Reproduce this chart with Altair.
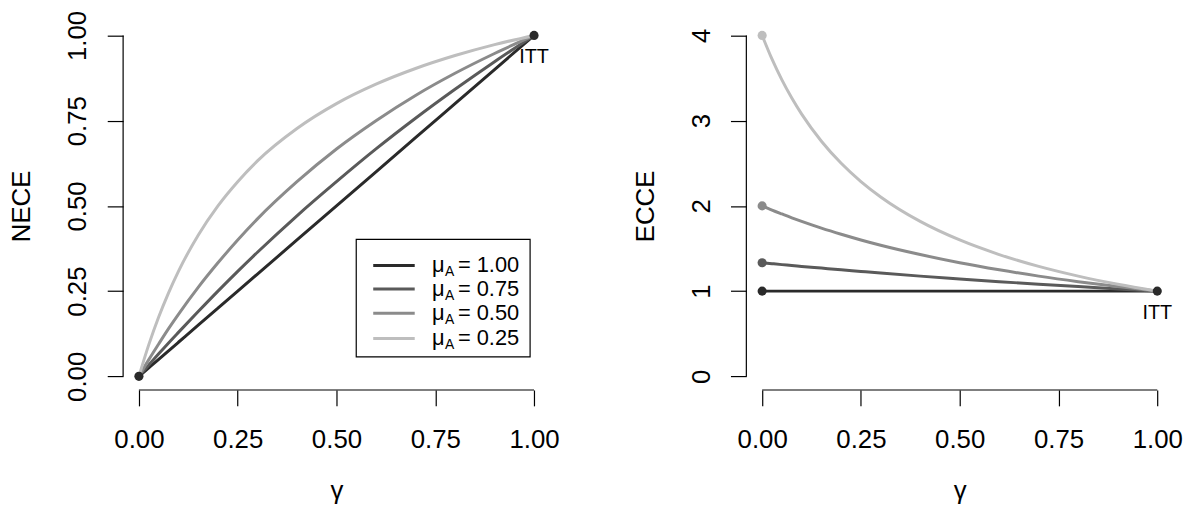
import altair as alt
import pandas as pd

# ---------------- data ----------------
MU_LABELS = ["1.00", "0.75", "0.50", "0.25"]
COLORS = ["#2a2a2a", "#5a5a5a", "#8b8b8b", "#bebebe"]

GAMMA = [0, 0.025, 0.05, 0.075, 0.1, 0.15, 0.2, 0.25, 0.3, 0.4, 0.5, 0.6, 0.7, 0.8, 0.9, 1.0]

NECE_100 = [0, 0.025, 0.05, 0.075, 0.1, 0.15, 0.2, 0.25, 0.3, 0.4, 0.5, 0.6, 0.7, 0.8, 0.9, 1.0]
NECE_075 = [0, 0.033, 0.066, 0.098, 0.129, 0.190, 0.25, 0.308, 0.364, 0.471, 0.571, 0.667, 0.757, 0.842, 0.923, 1.0]
NECE_050 = [0, 0.049, 0.095, 0.140, 0.182, 0.261, 0.333, 0.4, 0.462, 0.571, 0.667, 0.75, 0.824, 0.889, 0.947, 1.0]
NECE_025 = [0, 0.093, 0.174, 0.245, 0.308, 0.414, 0.5, 0.571, 0.632, 0.727, 0.8, 0.857, 0.903, 0.941, 0.973, 1.0]

ECCE_100 = [1, 1, 1, 1, 1, 1, 1, 1, 1, 1, 1, 1, 1, 1, 1, 1]
ECCE_075 = [1.333, 1.322, 1.311, 1.301, 1.290, 1.270, 1.25, 1.231, 1.212, 1.176, 1.143, 1.111, 1.081, 1.053, 1.026, 1.0]
ECCE_050 = [2.0, 1.951, 1.905, 1.860, 1.818, 1.739, 1.667, 1.6, 1.538, 1.429, 1.333, 1.25, 1.176, 1.111, 1.053, 1.0]
ECCE_025 = [4.0, 3.721, 3.478, 3.265, 3.077, 2.759, 2.5, 2.286, 2.105, 1.818, 1.6, 1.429, 1.290, 1.176, 1.081, 1.0]

NECE = [NECE_100, NECE_075, NECE_050, NECE_025]
ECCE = [ECCE_100, ECCE_075, ECCE_050, ECCE_025]

X_TICKS = [0, 0.25, 0.5, 0.75, 1.0]
NECE_TICKS = [0, 0.25, 0.5, 0.75, 1.0]
ECCE_TICKS = [0, 1, 2, 3, 4]

ITT_GAMMA = [1.0]
ITT_NECE = [1.0]
ITT_ECCE = [1.0]

# ---------------- layout constants ----------------
W, H = 430, 371
FONT = "Liberation Sans"
LW = 3
PT = 85
LEG_FS = 22
# legend placement (left panel data coordinates)
LEG_BOX = (0.55, 0.99, 0.057, 0.402)
LEG_LINE_X = (0.593, 0.698)
LEG_TEXT_X = 0.742
LEG_ROW_Y = [0.325, 0.256, 0.185, 0.111]

xs = alt.Scale(domain=[-0.04, 1.04], nice=False, zero=False)
ys_left = alt.Scale(domain=[-0.04, 1.04], nice=False, zero=False)
ys_right = alt.Scale(domain=[-0.16, 4.16], nice=False, zero=False)
cscale = alt.Scale(domain=MU_LABELS, range=COLORS)

one = pd.DataFrame({"k": [0]})

X_AXIS = alt.Axis(values=X_TICKS, format=".2f", labelPadding=21, titlePadding=25,
                  domain=False, grid=False, tickSize=16)


def y_axis(ticks, fmt):
    return alt.Axis(values=ticks, format=fmt, labelAngle=270, labelAlign="center",
                    labelBaseline="bottom", labelPadding=16.5, titlePadding=30.5,
                    titleAngle=270, titleAlign="center", titleBaseline="bottom",
                    domain=False, grid=False, tickSize=16)


def panel(values, ys, yticks, yfmt, ytitle, ycol, start_colored, itt_y):
    Y_AXIS = y_axis(yticks, yfmt)

    def X(field):
        return alt.X(field, scale=xs, title="γ", axis=X_AXIS)

    def Y(field):
        return alt.Y(field, scale=ys, title=ytitle, axis=Y_AXIS)

    def XD(v):
        return alt.XDatum(v, scale=xs, title="γ", axis=X_AXIS)

    def YD(v):
        return alt.YDatum(v, scale=ys, title=ytitle, axis=Y_AXIS)

    rows = []
    for mu, vals in zip(MU_LABELS, values):
        for g, v in zip(GAMMA, vals):
            rows.append({"gamma": g, ycol: v, "mu": mu})
    df = pd.DataFrame(rows)

    layers = []
    # axis lines (R style, spanning first..last tick)
    layers.append(alt.Chart(one).mark_rule(color="black", strokeWidth=1.2).encode(
        x=XD(X_TICKS[0]), x2=alt.X2Datum(X_TICKS[-1]), y=alt.value(H)))
    layers.append(alt.Chart(one).mark_rule(color="black", strokeWidth=1.2).encode(
        y=YD(yticks[0]), y2=alt.Y2Datum(yticks[-1]), x=alt.value(0)))

    for mu in MU_LABELS:
        sub = df[df["mu"] == mu]
        layers.append(alt.Chart(sub).mark_line(strokeWidth=LW, interpolate="monotone").encode(
            x=X("gamma:Q"), y=Y(f"{ycol}:Q"),
            color=alt.Color("mu:N", scale=cscale, legend=None)))

    starts = df[df["gamma"] == 0]
    if start_colored:
        layers.append(alt.Chart(starts).mark_circle(size=PT, opacity=1).encode(
            x=X("gamma:Q"), y=Y(f"{ycol}:Q"),
            color=alt.Color("mu:N", scale=cscale, legend=None)))
    else:
        layers.append(alt.Chart(starts.iloc[[0]]).mark_circle(size=PT, opacity=1, color=COLORS[0]).encode(
            x=X("gamma:Q"), y=Y(f"{ycol}:Q")))

    itt = pd.DataFrame({"gamma": ITT_GAMMA, ycol: itt_y, "lab": ["ITT"]})
    layers.append(alt.Chart(itt).mark_circle(size=PT, opacity=1, color=COLORS[0]).encode(
        x=X("gamma:Q"), y=Y(f"{ycol}:Q")))
    layers.append(alt.Chart(itt).mark_text(font=FONT, fontSize=20, dy=22, color="black",
                                           align="center", baseline="middle").encode(
        x=X("gamma:Q"), y=Y(f"{ycol}:Q"), text="lab:N"))

    extra = {"XD": XD, "YD": YD, "X": X, "Y": Y}
    return layers, extra


left_layers, L = panel(NECE, ys_left, NECE_TICKS, ".2f", "NECE", "nece", False, ITT_NECE)

# legend (left panel)
leg = pd.DataFrame({"mu": MU_LABELS, "ly": LEG_ROW_Y,
                    "rest": ["= " + m for m in MU_LABELS]})
left_layers.append(alt.Chart(one).mark_rect(fillOpacity=0, stroke="black", strokeWidth=1.2).encode(
    x=L["XD"](LEG_BOX[0]), x2=alt.X2Datum(LEG_BOX[1]),
    y=L["YD"](LEG_BOX[2]), y2=alt.Y2Datum(LEG_BOX[3])))
left_layers.append(alt.Chart(leg).mark_rule(strokeWidth=LW).encode(
    x=L["XD"](LEG_LINE_X[0]), x2=alt.X2Datum(LEG_LINE_X[1]),
    y=L["Y"]("ly:Q"),
    color=alt.Color("mu:N", scale=cscale, legend=None)))
left_layers.append(alt.Chart(leg).mark_text(font=FONT, fontSize=LEG_FS, align="left",
                                            baseline="middle", color="black").encode(
    x=L["XD"](LEG_TEXT_X), y=L["Y"]("ly:Q"), text=alt.value("μ")))
left_layers.append(alt.Chart(leg).mark_text(font=FONT, fontSize=14, align="left",
                                            baseline="middle", color="black", dx=13, dy=7).encode(
    x=L["XD"](LEG_TEXT_X), y=L["Y"]("ly:Q"), text=alt.value("A")))
left_layers.append(alt.Chart(leg).mark_text(font=FONT, fontSize=LEG_FS, align="left",
                                            baseline="middle", color="black", dx=26).encode(
    x=L["XD"](LEG_TEXT_X), y=L["Y"]("ly:Q"), text="rest:N"))

right_layers, R = panel(ECCE, ys_right, ECCE_TICKS, "d", "ECCE", "ecce", True, ITT_ECCE)

left = alt.layer(*left_layers).properties(width=W, height=H)
right = alt.layer(*right_layers).properties(width=W, height=H)

chart = alt.hconcat(left, right, spacing=198, bounds="flush").properties(
    padding=0
).configure_view(stroke=None).configure_axis(
    labelFont=FONT, labelFontSize=26, labelColor="black",
    titleFont=FONT, titleFontSize=26, titleFontWeight="normal", titleColor="black",
    tickColor="black", tickWidth=1.2
)

chart.save("out.html", embed_options={"renderer": "svg", "actions": False})
